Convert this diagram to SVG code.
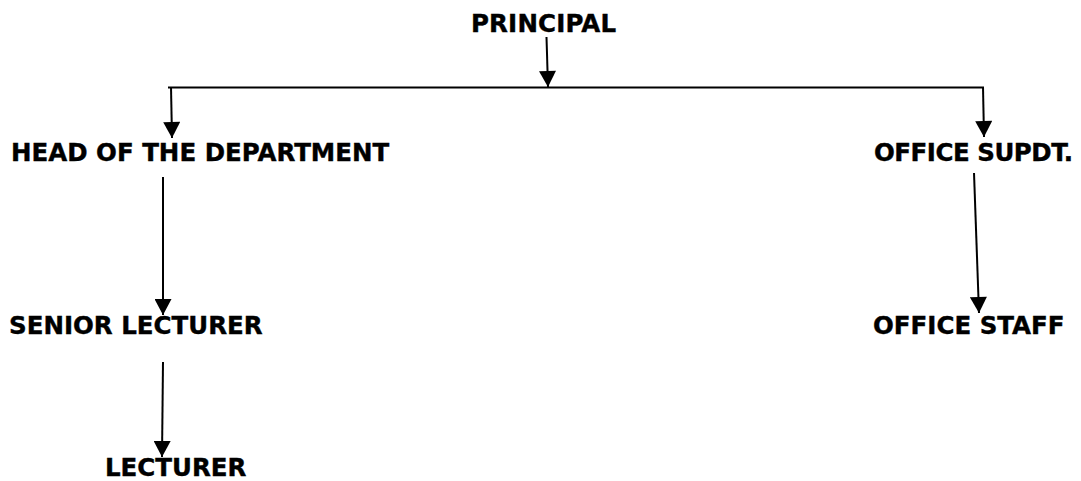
<svg xmlns="http://www.w3.org/2000/svg" width="1081" height="481" viewBox="0 0 1081 481">
  <style>
    .t { font-family: "DejaVu Sans", Verdana, sans-serif; font-weight: bold; font-size: 24.5px; fill: #000; stroke: #000; stroke-width: 0.4px; }
    .c { stroke: #000; stroke-width: 2; fill: none; }
  </style>
  <defs>
    <marker id="ah" markerUnits="userSpaceOnUse" markerWidth="17" markerHeight="17" viewBox="0 0 16 17" refX="16" refY="8.5" orient="auto">
      <path d="M0,0 L16,8.5 L0,17 Z" fill="#000"/>
    </marker>
  </defs>
  <rect width="1081" height="481" fill="#fff"/>
  <g id="connectors">
    <line class="c" x1="546.5" y1="37" x2="548" y2="87" marker-end="url(#ah)"/>
    <line class="c" x1="168" y1="87.5" x2="984" y2="87.5"/>
    <line class="c" x1="171" y1="87" x2="172" y2="138" marker-end="url(#ah)"/>
    <line class="c" x1="983" y1="87" x2="984" y2="137" marker-end="url(#ah)"/>
    <line class="c" x1="163" y1="177" x2="163" y2="315" marker-end="url(#ah)"/>
    <line class="c" x1="974" y1="173" x2="979" y2="313" marker-end="url(#ah)"/>
    <line class="c" x1="163" y1="362" x2="162" y2="457" marker-end="url(#ah)"/>
  </g>
  <g id="principal"><text class="t" x="471" y="32" textLength="145">PRINCIPAL</text></g>
  <g id="hod"><text class="t" x="11" y="161">HEAD OF THE DEPARTMENT</text></g>
  <g id="office-supdt"><text class="t" x="874" y="161" textLength="199">OFFICE SUPDT.</text></g>
  <g id="senior-lecturer"><text class="t" x="9" y="334">SENIOR LECTURER</text></g>
  <g id="office-staff"><text class="t" x="873" y="334">OFFICE STAFF</text></g>
  <g id="lecturer"><text class="t" x="105" y="476">LECTURER</text></g>
</svg>
